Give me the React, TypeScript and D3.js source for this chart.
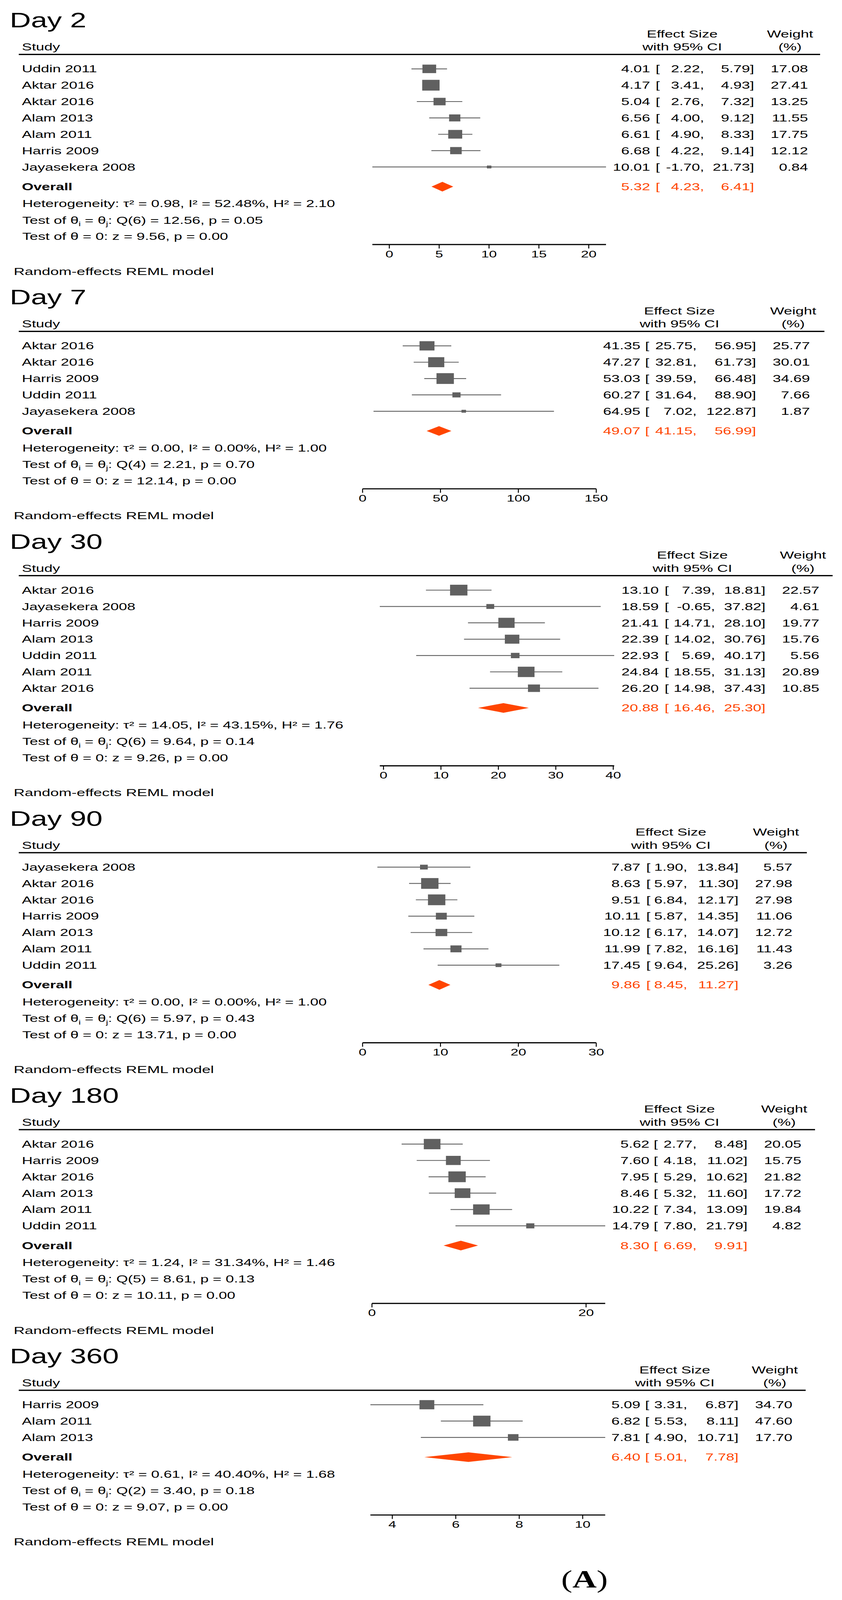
import { useEffect, useRef } from "react";
import * as d3 from "d3";

type Row = [string, number, number, number, number]; // study, es, lo, hi, weight

// ---- Day 2
const day2Rows: Row[] = [
  ["Uddin 2011", 4.01, 2.22, 5.79, 17.08],
  ["Aktar 2016", 4.17, 3.41, 4.93, 27.41],
  ["Aktar 2016", 5.04, 2.76, 7.32, 13.25],
  ["Alam 2013", 6.56, 4.0, 9.12, 11.55],
  ["Alam 2011", 6.61, 4.9, 8.33, 17.75],
  ["Harris 2009", 6.68, 4.22, 9.14, 12.12],
  ["Jayasekera 2008", 10.01, -1.7, 21.73, 0.84],
];
const day2Overall = [5.32, 4.23, 6.41];
// tau2, I2, H2, df, Q, p, z, p
const day2Stats = [0.98, 52.48, 2.1, 6, 12.56, 0.05, 9.56, 0.0];
const day2Ticks = [0, 5, 10, 15, 20];

// ---- Day 7
const day7Rows: Row[] = [
  ["Aktar 2016", 41.35, 25.75, 56.95, 25.77],
  ["Aktar 2016", 47.27, 32.81, 61.73, 30.01],
  ["Harris 2009", 53.03, 39.59, 66.48, 34.69],
  ["Uddin 2011", 60.27, 31.64, 88.9, 7.66],
  ["Jayasekera 2008", 64.95, 7.02, 122.87, 1.87],
];
const day7Overall = [49.07, 41.15, 56.99];
const day7Stats = [0.0, 0.0, 1.0, 4, 2.21, 0.7, 12.14, 0.0];
const day7Ticks = [0, 50, 100, 150];

// ---- Day 30
const day30Rows: Row[] = [
  ["Aktar 2016", 13.1, 7.39, 18.81, 22.57],
  ["Jayasekera 2008", 18.59, -0.65, 37.82, 4.61],
  ["Harris 2009", 21.41, 14.71, 28.1, 19.77],
  ["Alam 2013", 22.39, 14.02, 30.76, 15.76],
  ["Uddin 2011", 22.93, 5.69, 40.17, 5.56],
  ["Alam 2011", 24.84, 18.55, 31.13, 20.89],
  ["Aktar 2016", 26.2, 14.98, 37.43, 10.85],
];
const day30Overall = [20.88, 16.46, 25.3];
const day30Stats = [14.05, 43.15, 1.76, 6, 9.64, 0.14, 9.26, 0.0];
const day30Ticks = [0, 10, 20, 30, 40];

// ---- Day 90
const day90Rows: Row[] = [
  ["Jayasekera 2008", 7.87, 1.9, 13.84, 5.57],
  ["Aktar 2016", 8.63, 5.97, 11.3, 27.98],
  ["Aktar 2016", 9.51, 6.84, 12.17, 27.98],
  ["Harris 2009", 10.11, 5.87, 14.35, 11.06],
  ["Alam 2013", 10.12, 6.17, 14.07, 12.72],
  ["Alam 2011", 11.99, 7.82, 16.16, 11.43],
  ["Uddin 2011", 17.45, 9.64, 25.26, 3.26],
];
const day90Overall = [9.86, 8.45, 11.27];
const day90Stats = [0.0, 0.0, 1.0, 6, 5.97, 0.43, 13.71, 0.0];
const day90Ticks = [0, 10, 20, 30];

// ---- Day 180
const day180Rows: Row[] = [
  ["Aktar 2016", 5.62, 2.77, 8.48, 20.05],
  ["Harris 2009", 7.6, 4.18, 11.02, 15.75],
  ["Aktar 2016", 7.95, 5.29, 10.62, 21.82],
  ["Alam 2013", 8.46, 5.32, 11.6, 17.72],
  ["Alam 2011", 10.22, 7.34, 13.09, 19.84],
  ["Uddin 2011", 14.79, 7.8, 21.79, 4.82],
];
const day180Overall = [8.3, 6.69, 9.91];
const day180Stats = [1.24, 31.34, 1.46, 5, 8.61, 0.13, 10.11, 0.0];
const day180Ticks = [0, 20];

// ---- Day 360
const day360Rows: Row[] = [
  ["Harris 2009", 5.09, 3.31, 6.87, 34.7],
  ["Alam 2011", 6.82, 5.53, 8.11, 47.6],
  ["Alam 2013", 7.81, 4.9, 10.71, 17.7],
];
const day360Overall = [6.4, 5.01, 7.78];
const day360Stats = [0.61, 40.4, 1.68, 2, 3.4, 0.18, 9.07, 0.0];
const day360Ticks = [4, 6, 8, 10];

const titles = ["Day 2", "Day 7", "Day 30", "Day 90", "Day 180", "Day 360"];

// plot area and text columns of each panel (pixels)
const layouts = [
  { plot: [953, 1551], esR: 1664, brk: 1678, lowR: 1802, upR: 1930, wR: 2068, esHead: 1746, wHead: 2022, lineEnd: 2099 },
  { plot: [928, 1526], esR: 1639, brk: 1651, lowR: 1783, upR: 1935, wR: 2073, esHead: 1739, wHead: 2030, lineEnd: 2110 },
  { plot: [972, 1572], esR: 1686, brk: 1701, lowR: 1830, upR: 1959, wR: 2097, esHead: 1772, wHead: 2055, lineEnd: 2131 },
  { plot: [928, 1526], esR: 1639, brk: 1654, lowR: 1759, upR: 1890, wR: 2028, esHead: 1717, wHead: 1986, lineEnd: 2065 },
  { plot: [952, 1549], esR: 1662, brk: 1673, lowR: 1783, upR: 1913, wR: 2051, esHead: 1739, wHead: 2007, lineEnd: 2086 },
  { plot: [948, 1549], esR: 1639, brk: 1651, lowR: 1759, upR: 1890, wR: 2028, esHead: 1727, wHead: 1983, lineEnd: 2062 },
];

// drawing is laid out on the reference's 2155 x 5646 grid,
// then fitted into whatever the window gives us
const W = 2155;
const H = 5646;
const FONT = "'Liberation Sans', Arial, Helvetica, sans-serif";
const SX = 1.09; // the source graph is slightly stretched sideways
const GRAY = "#606060";
const ORANGE = "#ff4500";

export default function App() {
  const svgRef = useRef<SVGSVGElement | null>(null);
  const viewH = typeof window !== "undefined" ? window.innerHeight : H;

  useEffect(() => {
    const svg = d3.select(svgRef.current);
    svg.selectAll("*").remove();
    svg.append("rect").attr("width", W).attr("height", H).attr("fill", "#fff");

    const f2 = (v: number) => v.toFixed(2);

    const txt = (
      g: d3.Selection<any, unknown, null, undefined>,
      x: number,
      y: number,
      s: string,
      anchor = "start",
      size = 35,
      color = "#000",
      weight = "normal",
    ) =>
      g
        .append("text")
        .attr("transform", `translate(${x},${y}) scale(${SX},1)`)
        .attr("text-anchor", anchor)
        .style("font-family", FONT)
        .style("font-size", `${size}px`)
        .style("font-weight", weight)
        .attr("fill", color)
        .text(s);

    const panels = [
      { rows: day2Rows, overall: day2Overall, stats: day2Stats, ticks: day2Ticks },
      { rows: day7Rows, overall: day7Overall, stats: day7Stats, ticks: day7Ticks },
      { rows: day30Rows, overall: day30Overall, stats: day30Stats, ticks: day30Ticks },
      { rows: day90Rows, overall: day90Overall, stats: day90Stats, ticks: day90Ticks },
      { rows: day180Rows, overall: day180Overall, stats: day180Stats, ticks: day180Ticks },
      { rows: day360Rows, overall: day360Overall, stats: day360Stats, ticks: day360Ticks },
    ];

    const step = 57.7;
    let top = 97;

    panels.forEach((p, pi) => {
      const L = layouts[pi];
      const g = svg.append("g");

      // title
      g.append("text")
        .attr("x", 25)
        .attr("y", top)
        .style("font-family", FONT)
        .style("font-size", "75px")
        .attr("fill", "#000")
        .text(titles[pi]);

      // header
      txt(g, L.esHead, top + 35, "Effect Size", "middle");
      txt(g, L.esHead, top + 81, "with 95% CI", "middle");
      txt(g, L.wHead, top + 35, "Weight", "middle");
      txt(g, L.wHead, top + 81, "(%)", "middle");
      txt(g, 56, top + 81, "Study");
      g.append("line")
        .attr("x1", 48)
        .attr("x2", L.lineEnd)
        .attr("y1", top + 95)
        .attr("y2", top + 95)
        .attr("stroke", "#000")
        .attr("stroke-width", 4.5);

      const lows = p.rows.map((r) => r[2]).concat(p.ticks);
      const highs = p.rows.map((r) => r[3]).concat(p.ticks);
      const x = d3
        .scaleLinear()
        .domain([d3.min(lows)!, d3.max(highs)!])
        .range(L.plot);
      const wMax = d3.max(p.rows, (r) => r[4])!;
      const y = d3
        .scaleLinear()
        .domain([0, 1])
        .range([top + 146, top + 146 + step]);

      p.rows.forEach((r, i) => {
        const [name, es, lo, hi, w] = r;
        const cy = y(i);
        g.append("line")
          .attr("x1", x(lo))
          .attr("x2", x(hi))
          .attr("y1", cy)
          .attr("y2", cy)
          .attr("stroke", GRAY)
          .attr("stroke-width", 3);
        const h = Math.max(10, 38 * Math.sqrt(w / wMax));
        const bw = h * 1.17;
        g.append("rect")
          .attr("x", x(es) - bw / 2)
          .attr("y", cy - h / 2)
          .attr("width", bw)
          .attr("height", h)
          .attr("fill", GRAY);

        const by = cy + 12.5;
        txt(g, 56, by, name);
        txt(g, L.esR, by, f2(es), "end");
        txt(g, L.brk, by, "[");
        txt(g, L.lowR, by, `${f2(lo)},`, "end");
        txt(g, L.upR, by, `${f2(hi)}]`, "end");
        txt(g, L.wR, by, f2(w), "end");
      });

      // overall
      const oy = y(p.rows.length - 1) + 69.5;
      const [oes, olo, ohi] = p.overall;
      g.append("path")
        .attr(
          "d",
          `M${x(olo)},${oy}L${x(oes)},${oy - 17}L${x(ohi)},${oy}L${x(oes)},${oy + 17}Z`,
        )
        .attr("fill", ORANGE);
      const oby = oy + 12.5;
      txt(g, 56, oby, "Overall", "start", 35, "#000", "bold");
      txt(g, L.esR, oby, f2(oes), "end", 35, ORANGE);
      txt(g, L.brk, oby, "[", "start", 35, ORANGE);
      txt(g, L.lowR, oby, `${f2(olo)},`, "end", 35, ORANGE);
      txt(g, L.upR, oby, `${f2(ohi)}]`, "end", 35, ORANGE);

      // heterogeneity and tests
      const [tau2, i2, h2, df, q, pq, z, pz] = p.stats;
      const hy = oy + 60;
      const t1 = hy + 58;
      const t2 = t1 + 57.7;
      txt(
        g,
        57,
        hy + 12.5,
        `Heterogeneity: τ² = ${f2(tau2)}, I² = ${f2(i2)}%, H² = ${f2(h2)}`,
      );
      const tq = txt(g, 57, t1 + 12.5, "");
      tq.append("tspan").text("Test of θ");
      tq.append("tspan").attr("dy", 9).style("font-size", "22px").text("i");
      tq.append("tspan").attr("dy", -9).text(" = θ");
      tq.append("tspan").attr("dy", 9).style("font-size", "22px").text("j");
      tq.append("tspan")
        .attr("dy", -9)
        .text(`: Q(${df}) = ${f2(q)}, p = ${f2(pq)}`);
      txt(g, 57, t2 + 12.5, `Test of θ = 0: z = ${f2(z)}, p = ${f2(pz)}`);

      // axis
      const ay = t2 + 28.5;
      g.append("line")
        .attr("x1", L.plot[0])
        .attr("x2", L.plot[1])
        .attr("y1", ay)
        .attr("y2", ay)
        .attr("stroke", "#000")
        .attr("stroke-width", 4);
      p.ticks.forEach((t) => {
        g.append("line")
          .attr("x1", x(t))
          .attr("x2", x(t))
          .attr("y1", ay)
          .attr("y2", ay + 14)
          .attr("stroke", "#000")
          .attr("stroke-width", 2.5);
        txt(g, x(t), ay + 45, String(t), "middle", 33);
      });

      const ry = ay + 94.5;
      txt(g, 35, ry + 13, "Random-effects REML model", "start", 36);

      top = ry + 117;
    });

    const lab = svg
      .append("text")
      .attr("x", 1496)
      .attr("y", 5602)
      .attr("text-anchor", "middle")
      .style("font-family", "'Liberation Serif', 'Times New Roman', serif")
      .style("font-size", "86px")
      .attr("fill", "#000");
    lab.append("tspan").text("(");
    lab.append("tspan").style("font-weight", "bold").text("A");
    lab.append("tspan").text(")");
  }, []);

  return (
    <svg
      ref={svgRef}
      width={W}
      height={Math.min(H, viewH)}
      viewBox={`0 0 ${W} ${H}`}
      preserveAspectRatio="none"
      style={{ display: "block", position: "absolute", left: 0, top: 0 }}
    />
  );
}
